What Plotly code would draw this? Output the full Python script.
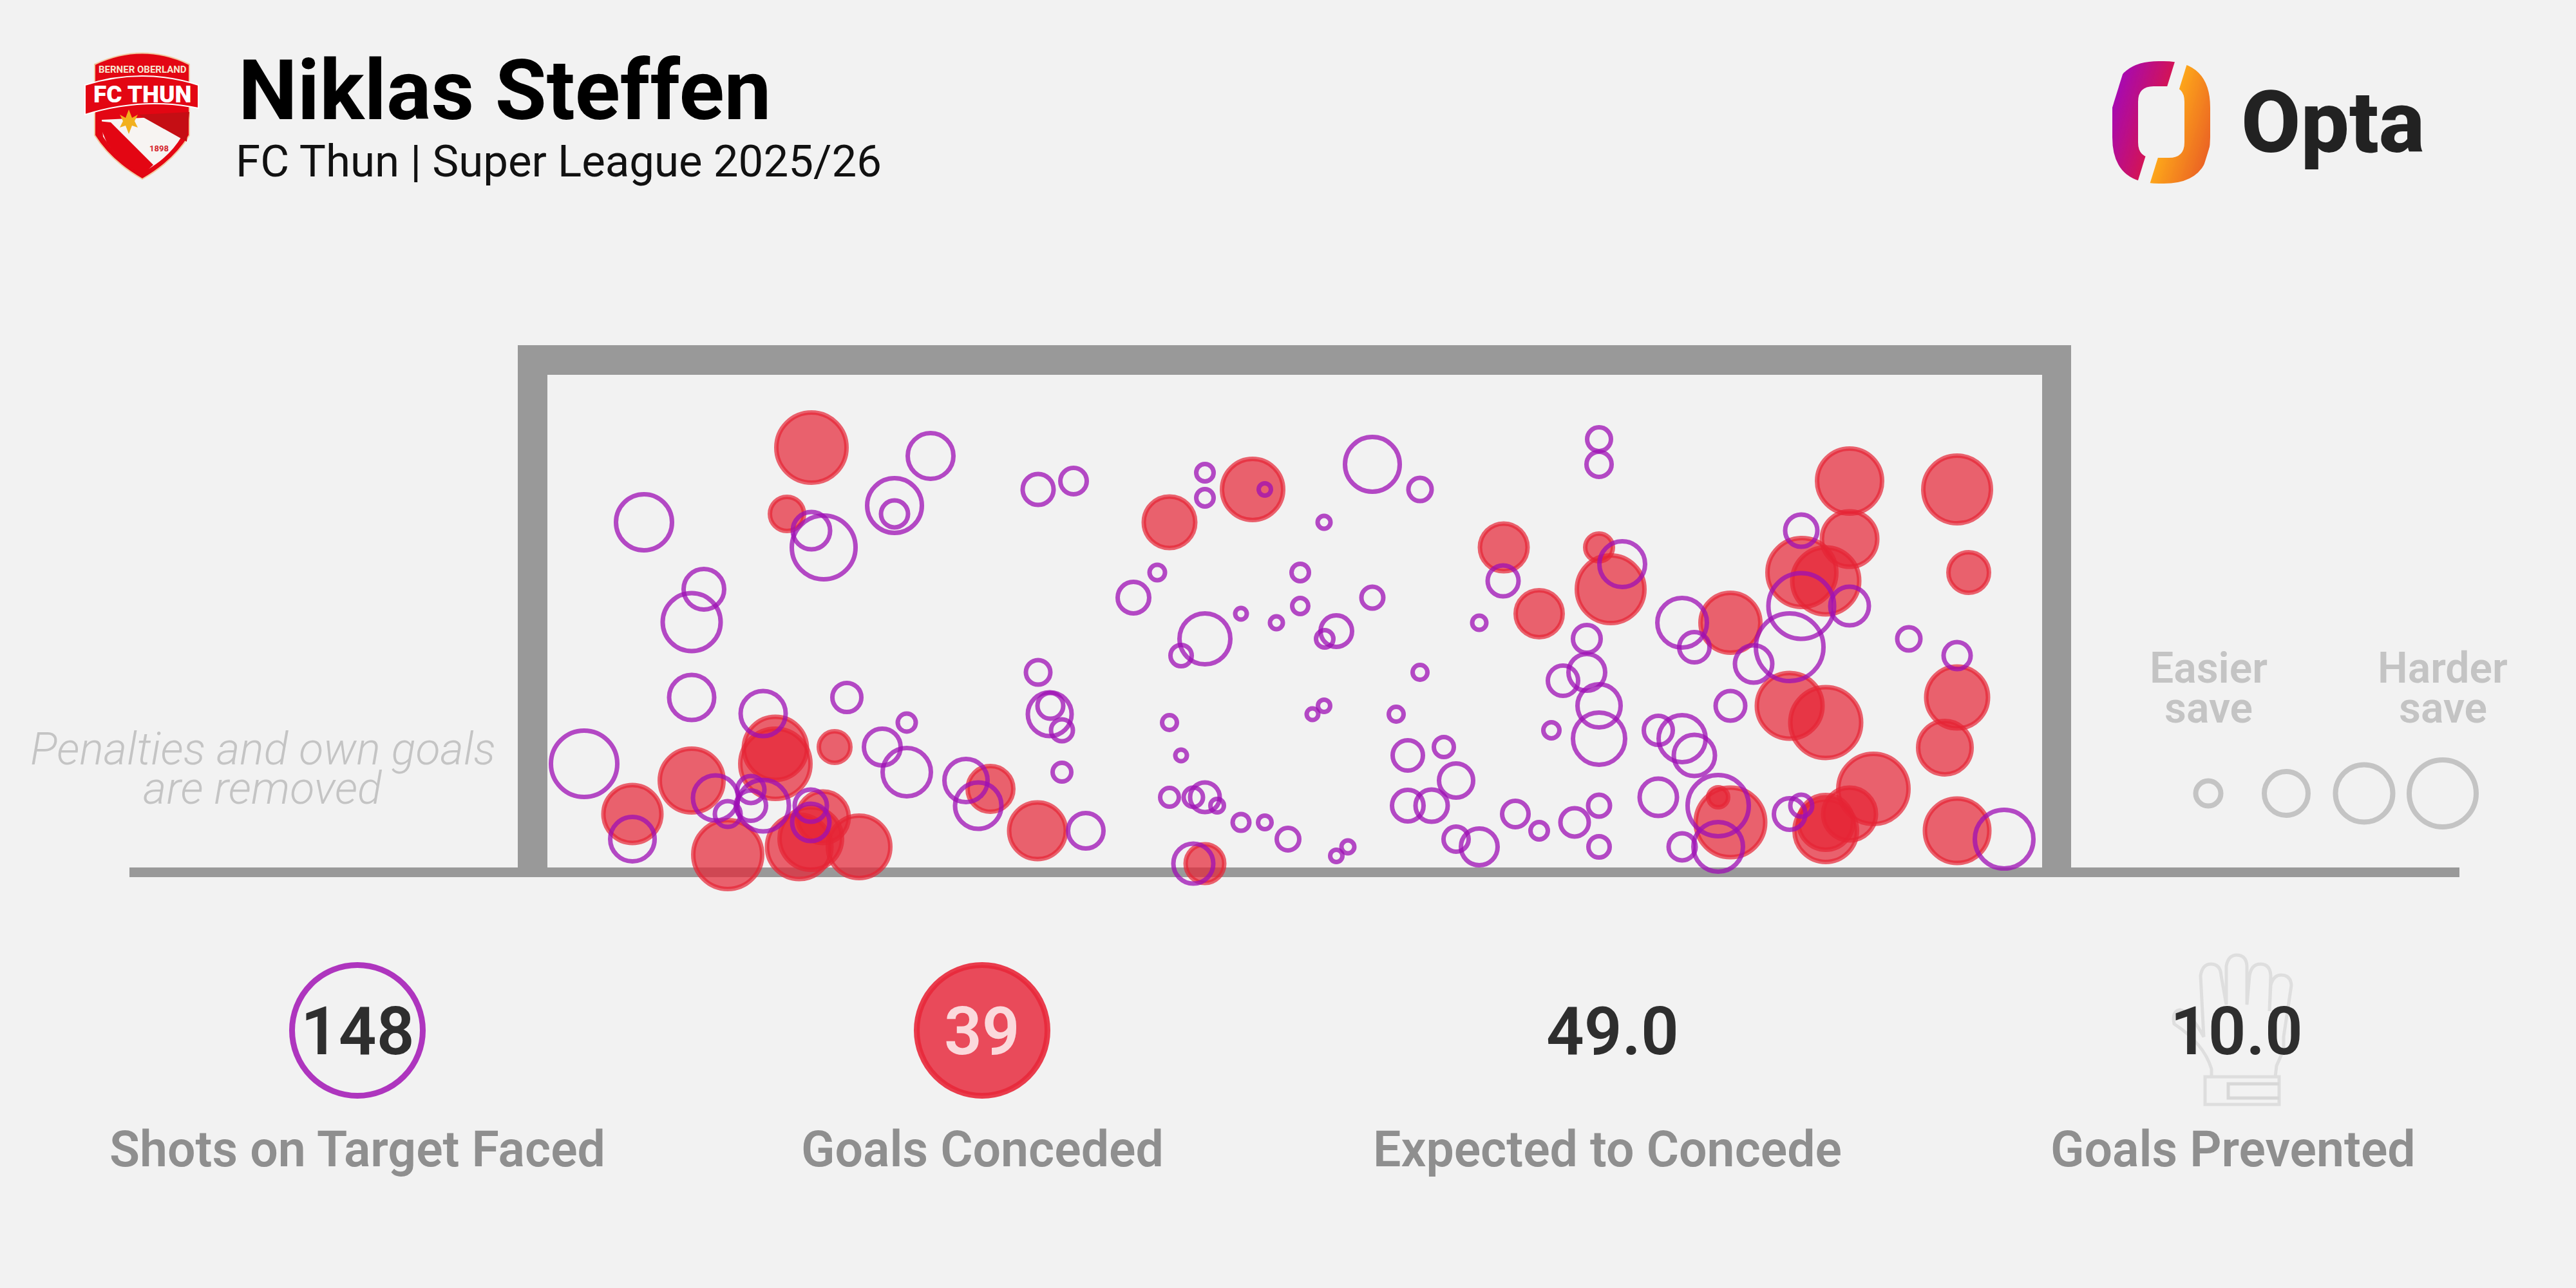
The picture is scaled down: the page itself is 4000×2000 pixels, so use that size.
import numpy as np
import plotly.graph_objects as go

# picture units: x 0-4000, y 0-2000 from the top
saved_x = [1000, 1074, 1093, 1074, 907, 982, 1260, 1279, 1389, 1389, 1445, 1185, 1315, 1408, 1370, 1408,
           1111, 1166, 1130, 1166, 1185, 1259, 1259, 1500, 1519, 1612, 1667, 1612, 1630, 1631, 1649, 1649, 1686,
           1871, 1871, 1964, 2131, 2205, 2056, 1797, 1760, 2019, 2019, 2131, 1927, 1982, 2075, 2057, 1871, 1834,
           2297, 2334, 2205, 2056, 2038, 2168, 1816, 1834, 2186, 2242, 2261, 2186, 2223, 1816, 1853, 1871, 1890,
           1927, 1964, 2000, 1853, 2093, 2075, 2261, 2297, 2353, 2390,
           2483, 2483, 2519, 2797, 2872, 2797, 2779, 2612, 2631, 2723, 2964, 3039, 2464, 2464, 2427, 2483, 2483,
           2409, 2575, 2612, 2631, 2687, 2575, 2668, 2483, 2445, 2483, 2612, 2668, 2779, 2797, 3112]
saved_y = [811, 966, 915, 1083, 1186, 1303, 824, 850, 785, 798, 708, 1108, 1083, 1122, 1160, 1199,
           1239, 1226, 1264, 1251, 1251, 1251, 1277, 1212, 1251, 760, 747, 1044, 1109, 1096, 1134, 1199, 1290,
           734, 773, 760, 721, 760, 811, 889, 928, 889, 941, 928, 953, 967, 980, 992, 992, 1018,
           967, 902, 1044, 1096, 1109, 1109, 1122, 1173, 1173, 1160, 1212, 1251, 1251, 1238, 1238, 1238, 1251,
           1277, 1277, 1303, 1341, 1315, 1329, 1303, 1315, 1264, 1290,
           682, 721, 876, 824, 941, 941, 1005, 967, 1005, 1031, 992, 1018, 992, 1044, 1057, 1096, 1147,
           1134, 1134, 1147, 1173, 1096, 1238, 1251, 1251, 1277, 1315, 1315, 1315, 1264, 1251, 1303]
saved_size = [94, 97, 70, 77, 110, 76, 65, 106, 92, 49, 78, 77, 52, 35, 64, 82,
              77, 49, 47, 54, 87, 57, 65, 74, 79, 55, 48, 45, 75, 47, 41, 36, 62,
              34, 34, 26, 92, 43, 27, 31, 56, 34, 32, 41, 25, 27, 56, 34, 86, 40,
              29, 55, 30, 26, 25, 30, 30, 25, 54, 38, 60, 56, 57, 36, 37, 53, 28,
              33, 28, 42, 69, 27, 26, 46, 64, 48, 34,
              44, 46, 78, 57, 67, 109, 112, 84, 54, 65, 43, 49, 50, 64, 54, 74, 88,
              32, 52, 80, 71, 53, 65, 102, 41, 51, 40, 49, 84, 56, 41, 98]

goal_x = [1260, 1222, 1074, 982, 1204, 1204, 1296, 1130, 1241, 1259, 1278, 1334, 1538, 1611,
          1816, 1945, 1871, 2335, 2390,
          2501, 2483, 2687, 2798, 2835, 2872, 2872, 3039, 3057, 2779, 2835, 3039, 3020, 2909, 2872, 2835, 2835,
          2687, 2668, 3039]
goal_y = [695, 798, 1212, 1264, 1162, 1186, 1160, 1327, 1315, 1302, 1269, 1315, 1225, 1290,
          811, 760, 1341, 850, 953,
          915, 850, 967, 889, 902, 747, 837, 760, 889, 1096, 1122, 1083, 1161, 1225, 1264, 1277, 1290,
          1277, 1238, 1290]
goal_size = [116, 60, 106, 97, 105, 116, 56, 114, 107, 104, 87, 104, 78, 95,
             87, 102, 67, 81, 80,
             112, 50, 100, 114, 111, 108, 93, 112, 70, 109, 117, 103, 90, 116, 89, 92, 104,
             115, 38, 107]

legend_x = [3429, 3550, 3671, 3793]
legend_size = [47, 76, 97, 112]
legend_y = 1232

stat_values = ["148", "39", "49.0", "10.0"]
stat_labels = ["Shots on Target Faced", "Goals Conceded", "Expected to Concede", "Goals Prevented"]
stat_value_x = [555, 1525, 2504, 3473]
stat_label_x = [555, 1525, 2496, 3467]

BG = "#F2F2F2"
FRAME = "#999999"
PURPLE = "rgba(158,15,180,0.75)"
RED = "rgba(230,35,53,0.7)"
LINE_W = 7
FONT = "Roboto"

fig = go.Figure()


def rect(x0, y0, x1, y1, color):
    fig.add_shape(type="rect", x0=x0, y0=y0, x1=x1, y1=y1, fillcolor=color, line_width=0, layer="below")


def path(d, fill=None, line=None, width=0):
    fig.add_shape(type="path", path=d, fillcolor=fill or "rgba(0,0,0,0)", line=dict(color=line or "rgba(0,0,0,0)", width=width), layer="below")


def text(x, y, s, size, color, weight=400, anchor="center", style="normal", font=FONT):
    fig.add_annotation(x=x, y=y, text=s, showarrow=False, xanchor=anchor, yanchor="middle",
                       font=dict(family=font, size=size, color=color, weight=weight, style=style))


def round_rect(x0, y0, x1, y1, r):
    return (f"M{x0+r},{y0} L{x1-r},{y0} Q{x1},{y0} {x1},{y0+r} L{x1},{y1-r} Q{x1},{y1} {x1-r},{y1} "
            f"L{x0+r},{y1} Q{x0},{y1} {x0},{y1-r} L{x0},{y0+r} Q{x0},{y0} {x0+r},{y0} Z")


# goal frame and ground
rect(804, 536, 3216, 582, FRAME)
rect(804, 536, 850, 1362, FRAME)
rect(3171, 536, 3216, 1362, FRAME)
rect(201, 1347, 3819, 1362, FRAME)

# shots
fig.add_trace(go.Scatter(x=goal_x, y=goal_y, mode="markers",
                         marker=dict(size=[s - LINE_W for s in goal_size], opacity=1, color=RED, line=dict(width=LINE_W, color=RED))))
fig.add_trace(go.Scatter(x=saved_x, y=saved_y, mode="markers",
                         marker=dict(size=[s - LINE_W for s in saved_size], opacity=1, color="rgba(0,0,0,0)", line=dict(width=LINE_W, color=PURPLE))))

# size legend
fig.add_trace(go.Scatter(x=legend_x, y=[legend_y] * 4, mode="markers",
                         marker=dict(size=[s - 8 for s in legend_size], opacity=1, color="rgba(0,0,0,0)", line=dict(width=8, color="#C4C4C4"))))
text(3429, 1037, "Easier", 66, "#C4C4C4", 600)
text(3429, 1099, "save", 66, "#C4C4C4", 600)
text(3793, 1037, "Harder", 66, "#C4C4C4", 600)
text(3793, 1099, "save", 66, "#C4C4C4", 600)

text(408, 1163, "Penalties and own goals", 70, "#C4C4C4", 300, style="italic")
text(408, 1224, "are removed", 70, "#C4C4C4", 300, style="italic")

# stat row
fig.add_trace(go.Scatter(x=stat_value_x[:1], y=[1600], mode="markers",
                         marker=dict(size=203, color="rgba(0,0,0,0)", line=dict(width=9, color="#AE35BE"))))
fig.add_trace(go.Scatter(x=stat_value_x[1:2], y=[1600], mode="markers",
                         marker=dict(size=203, color="#E94A5A", line=dict(width=9, color="rgba(232,40,58,0.9)"))))

# glove, behind the last number
glove = ("M3434,1672 L3434,1660 Q3422,1620 3376,1590 Q3372,1570 3385,1568 Q3400,1570 3422,1610 L3417,1515 "
         "Q3420,1497 3433,1497 Q3448,1497 3449,1515 L3457,1560 L3457,1500 Q3460,1483 3473,1483 Q3488,1483 3489,1500 "
         "L3489,1560 L3493,1515 Q3496,1497 3510,1497 Q3525,1497 3526,1515 L3524,1570 L3526,1530 Q3530,1514 3542,1514 "
         "Q3557,1514 3558,1530 L3546,1610 L3546,1630 L3535,1655 L3533,1672")
path(glove, line="#DEDEDE", width=5)
path("M3424,1672 L3539,1672 L3539,1715 L3424,1715 Z", line="#DEDEDE", width=5)
path("M3539,1683 L3460,1683 L3460,1705 L3539,1705", line="#D8D8D8", width=5)

value_colors = ["#2E2E2E", "#FBD9DC", "#2E2E2E", "#2E2E2E"]
for vx, lx, v, lab, c in zip(stat_value_x, stat_label_x, stat_values, stat_labels, value_colors):
    text(vx, 1601, v, 103, c, 600)
    text(lx, 1785, lab, 77, "#8F8F8F", 600)

# header
text(368, 140, "Niklas Steffen", 130, "#000000", 700, anchor="left")
text(364, 250, "FC Thun | Super League 2025/26", 69, "#111111", 400, anchor="left")

# club badge
path("M147,100 Q221,65 294,100 L294,210 Q270,250 221,278 Q172,250 147,210 Z", fill="#E30613", line="#F2C9A0", width=2)
path("M158,186 L284,180 L282,212 Q262,246 221,268 Q180,246 160,212 Z", fill="#F7F4F2")
path("M215,178 L294,174 L290,220 Z", fill="#C50E14")
path("M152,188 L172,190 L238,256 L221,272 Q186,250 166,222 Z", fill="#E30613")
path("M132,132 Q221,104 308,132 L308,168 Q221,150 132,178 Z", fill="#E30613", line="#FFFFFF", width=2)
path("M200,170 L205,183 L214,178 L209,188 L214,198 L205,195 L200,208 L195,195 L186,198 L191,188 L186,178 L195,183 Z", fill="#F2B01E")
text(221, 108, "BERNER OBERLAND", 15, "#F7E6D0", 700)
text(221, 146, "FC THUN", 37, "#FFFFFF", 900)
text(247, 230, "1898", 13, "#D4232B", 700)

# Opta mark: slanted gradient strips with the ring cut out of them
left_from, left_to = np.array([169, 11, 174]), np.array([210, 20, 90])
right_from, right_to = np.array([253, 165, 27]), np.array([236, 102, 36])
for i in range(30):
    t = i / 29
    for u0, u1, c0, c1 in [(-75, 0, left_from, left_to), (20, 95, right_from, right_to)]:
        a = u0 + (u1 - u0) * i / 30
        b = u0 + (u1 - u0) * (i + 1.5) / 30
        b = min(b, u1)
        c = (c0 + (c1 - c0) * t).astype(int)
        x_top, x_bot = 3377 + 0.31 * 6, 3377 - 0.31 * 196
        path(f"M{x_top+a},90 L{x_top+b},90 L{x_bot+b},292 L{x_bot+a},292 Z", fill=f"rgb({c[0]},{c[1]},{c[2]})")
path("M3230,85 L3478,85 L3478,297 L3230,297 Z " + round_rect(3280, 95, 3432, 285, 72) + " " + round_rect(3320, 134, 3392, 245, 24), fill=BG)
text(3478, 190, "Opta", 134, "#222222", 800, anchor="left")

fig.update_layout(
    width=4000, height=2000, margin=dict(l=0, r=0, t=0, b=0),
    paper_bgcolor=BG, plot_bgcolor=BG, showlegend=False,
    xaxis=dict(range=[0, 4000], visible=False, fixedrange=True),
    yaxis=dict(range=[2000, 0], visible=False, fixedrange=True),
)

fig.write_html("out.html", post_script="document.body.style.margin='0';", config=dict(displayModeBar=False))
